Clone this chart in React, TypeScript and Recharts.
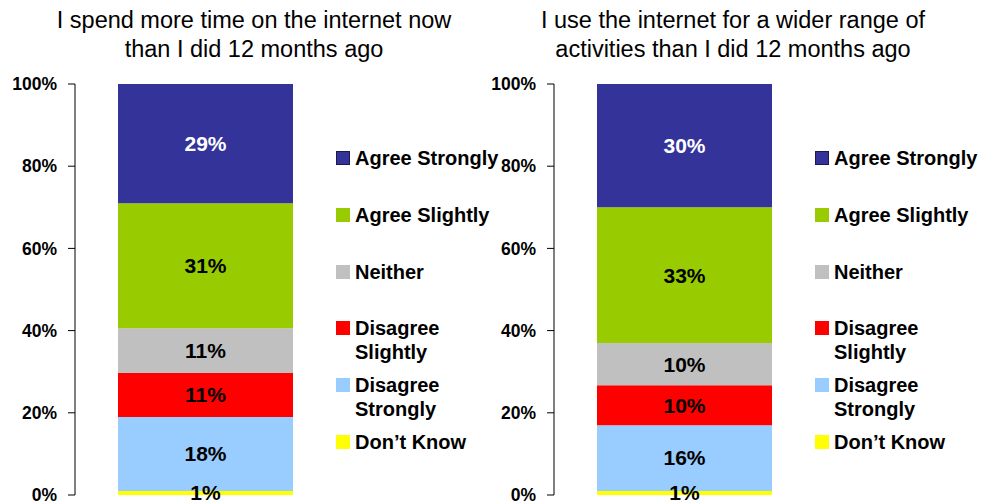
import React from 'react';
import { BarChart, Bar, XAxis, YAxis, LabelList } from 'recharts';

// answer categories, top of the stack first
const categorias = ['Agree Strongly', 'Agree Slightly', 'Neither', 'Disagree Slightly', 'Disagree Strongly', 'Don\u2019t Know'];
const cores = ['#333399', '#99cc00', '#c0c0c0', '#ff0000', '#99ccff', '#ffff00'];
const corTexto = ['#ffffff', '#000000', '#000000', '#000000', '#000000', '#000000'];

// segment heights as measured off the bars (%)
const gastoTempo = [29, 30.4, 10.9, 10.7, 18, 1];
const gastoTempoRotulos = ['29%', '31%', '11%', '11%', '18%', '1%'];

const variedade = [30, 33, 10.3, 9.7, 16, 1];
const variedadeRotulos = ['30%', '33%', '10%', '10%', '16%', '1%'];

const ticksY = [0, 20, 40, 60, 80, 100];

const tituloEsq = ['I spend more time on the internet now', 'than I did 12 months ago'];
const tituloDir = ['I use the internet for a wider range of', 'activities than I did 12 months ago'];

const FONTE = '"Liberation Sans", Arial, Helvetica, sans-serif';

const montaLinha = (valores: number[], rotulos: string[]) => {
  const linha: any = { nome: 'Total' };
  valores.forEach((v, i) => {
    linha[`s${i}`] = v;
    linha[`l${i}`] = rotulos[i];
  });
  return [linha];
};

interface PropsPainel {
  valores: number[];
  rotulos: string[];
  titulo: string[];
  esquerda: number;
  centroTitulo: number;
  legendaX: number;
}

const Painel: React.FC<PropsPainel> = ({ valores, rotulos, titulo, esquerda, centroTitulo, legendaX }) => {
  const dados = montaLinha(valores, rotulos);
  const ordemPilha = categorias.map((_, i) => i).reverse();
  return (
    <>
      <div
        style={{
          position: 'absolute',
          left: centroTitulo - 240,
          top: 6,
          width: 480,
          textAlign: 'center',
          fontFamily: FONTE,
          fontSize: 23.5,
          lineHeight: '29px',
          whiteSpace: 'nowrap',
          color: '#000',
        }}
      >
        {titulo.map((t, i) => (
          <div key={i}>{t}</div>
        ))}
      </div>
      <div style={{ position: 'absolute', left: esquerda, top: 0 }}>
        <BarChart width={340} height={504} data={dados} margin={{ top: 84, right: 4, bottom: 9, left: 0 }}>
          <XAxis dataKey="nome" tick={false} tickLine={false} height={0} axisLine={{ stroke: '#000' }} />
          <YAxis
            type="number"
            domain={[0, 100]}
            ticks={ticksY}
            width={75}
            tickFormatter={(v) => `${v}%`}
            axisLine={{ stroke: '#000' }}
            tickLine={{ stroke: '#000' }}
            tickSize={7}
            tickMargin={11}
            tick={{ fill: '#000', fontSize: 17.5, fontWeight: 'bold', fontFamily: FONTE }}
            interval={0}
          />
          {ordemPilha.map((i) => (
            <Bar key={i} dataKey={`s${i}`} stackId="a" fill={cores[i]} barSize={175} isAnimationActive={false}>
              <LabelList
                dataKey={`l${i}`}
                position="center"
                fill={corTexto[i]}
                style={{ fontSize: 21, fontWeight: 'bold', fontFamily: FONTE }}
              />
            </Bar>
          ))}
        </BarChart>
      </div>
      {categorias.map((c, i) => {
        const cy = 158 + i * 56.8;
        return (
          <div key={c} style={{ position: 'absolute', left: legendaX, top: cy - 12 }}>
            <div
              style={{
                position: 'absolute',
                left: 0,
                top: 5,
                width: 14,
                height: 14,
                boxSizing: 'border-box',
                background: cores[i],
                border: i === 0 ? '1px solid #1a1a4d' : 'none',
              }}
            />
            <div
              style={{
                position: 'absolute',
                left: 19,
                top: 0,
                width: 150,
                fontFamily: FONTE,
                fontSize: 20,
                fontWeight: 'bold',
                lineHeight: '24px',
                color: '#000',
              }}
            >
              {c}
            </div>
          </div>
        );
      })}
    </>
  );
};

export default function App() {
  return (
    <div style={{ position: 'absolute', left: 0, top: 0, width: 984, height: 504, background: '#fff', overflow: 'hidden' }}>
      <Painel
        valores={gastoTempo}
        rotulos={gastoTempoRotulos}
        titulo={tituloEsq}
        esquerda={0}
        centroTitulo={254}
        legendaX={336}
      />
      <Painel
        valores={variedade}
        rotulos={variedadeRotulos}
        titulo={tituloDir}
        esquerda={479}
        centroTitulo={733}
        legendaX={815}
      />
    </div>
  );
}
